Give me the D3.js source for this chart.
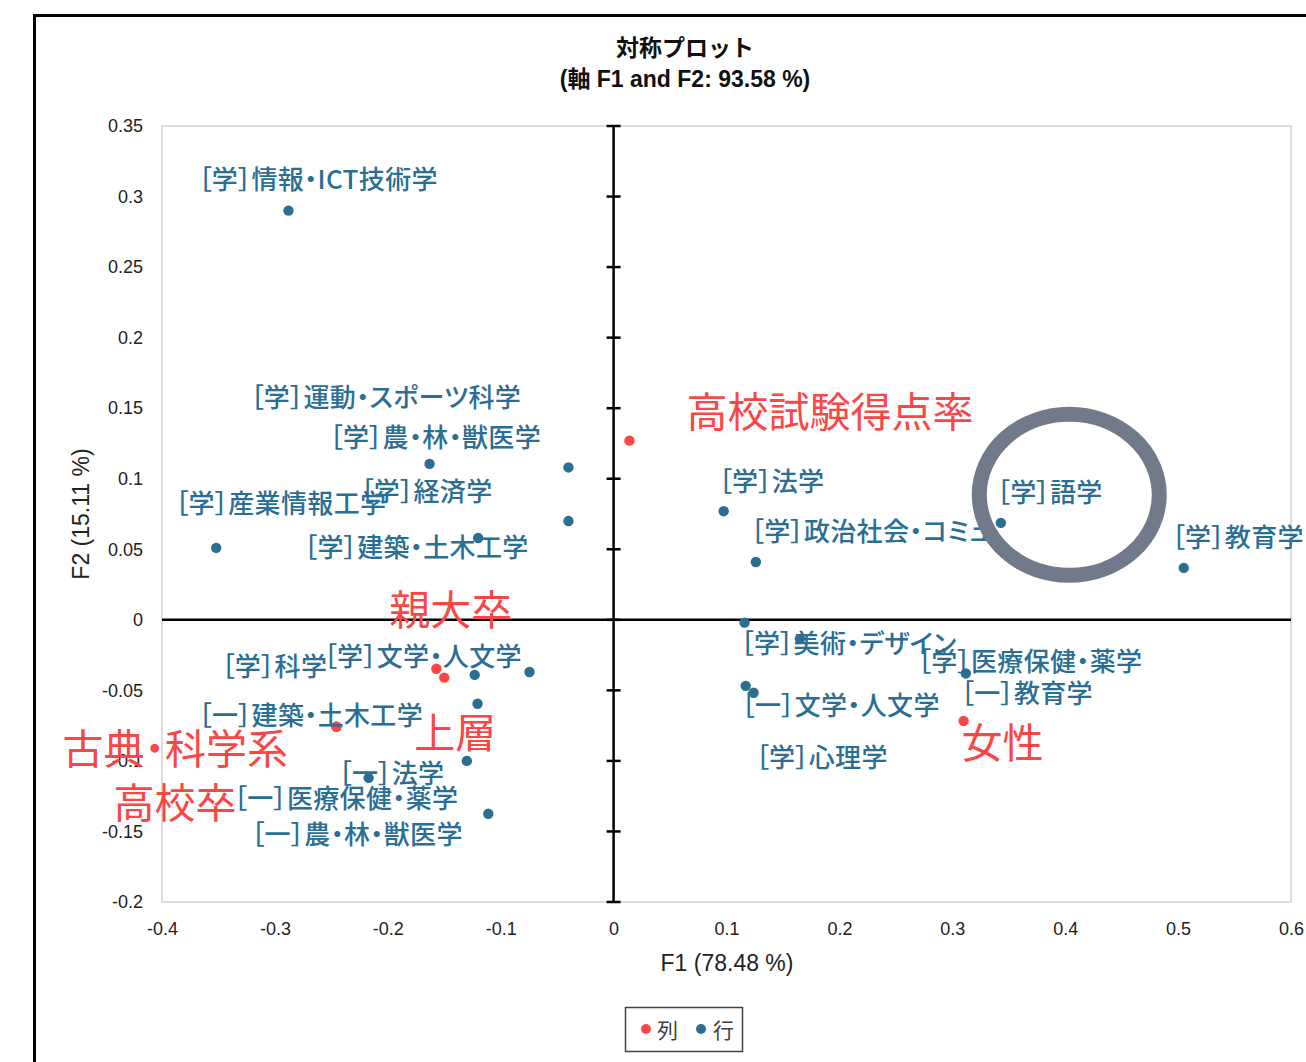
<!DOCTYPE html>
<html><head><meta charset="utf-8">
<script src="https://cdn.jsdelivr.net/npm/d3@7"></script>
<style>
html,body{margin:0;padding:0;background:#fff;}
svg{display:block;}
.tick text{font-family:"Liberation Sans",Arial,sans-serif;}
.lbl{font-feature-settings:"palt" 1;}
</style></head>
<body>
<svg id="c" width="1306" height="1062"></svg>
<script>
// ---- data ----
const rowLabels = [
  "［学］情報・ICT技術学","［学］運動・スポーツ科学","［学］農・林・獣医学","［学］経済学","［学］産業情報工学","［学］建築・土木工学",
  "［学］文学・人文学","［学］科学","［一］建築・土木工学","［一］法学","［一］医療保健・薬学","［一］農・林・獣医学",
  "［学］法学","［学］政治社会・コミュ","［学］語学","［学］教育学",
  "［学］美術・デザイン","［学］医療保健・薬学","［一］教育学","［一］文学・人文学","［学］心理学"
];
const rowF1 = [-0.288,-0.040,-0.163,-0.040,-0.352,-0.120,
  -0.123,-0.0745,-0.1205,-0.217,-0.130,-0.111,
  0.0975,0.126,0.343,0.505,
  0.116,0.165,0.312,0.124,0.117];
const rowF2 = [0.290,0.108,0.1105,0.070,0.051,0.058,
  -0.039,-0.037,-0.0595,-0.112,-0.100,-0.1375,
  0.077,0.041,0.0687,0.0368,
  -0.002,-0.0135,-0.038,-0.0517,-0.0468];
const colLabels = ["高校試験得点率","女性","親大卒","上層","古典・科学系","高校卒"];
const colF1 = [0.014,0.310,-0.157,-0.150,-0.2455,-0.2455];
const colF2 = [0.127,-0.0716,-0.0347,-0.041,-0.0758,-0.0758];
const xTicks = [-0.4,-0.3,-0.2,-0.1,0,0.1,0.2,0.3,0.4,0.5,0.6];
const yTicks = [-0.2,-0.15,-0.1,-0.05,0,0.05,0.1,0.15,0.2,0.25,0.3,0.35];
const titleLines = ["対称プロット","(軸 F1 and F2: 93.58 %)"];
const xTitle = "F1 (78.48 %)";
const yTitle = "F2 (15.11 %)";
const legendItems = ["列","行"];
const highlight = [0.4036, 0.0886]; // annotated point region (語学)

// ---- label placement (pixel offsets from each point) ----
const rowLabelOff = [[-90,-33],[-318,-72],[-100,-28],[-208,-32],[-41,-46],[-174,8],
  [-151,-20],[-308,-8],[-279,10],[-30,-6],[-233,36],[-237,19],
  [-5,-32],[-5,-32],[-4,-32],[-12,-32],
  [-4,19],[118,21],[-5,18],[-12,11],[10,70]];
const colLabelOff = [[57,-32],[-2,19],[-47,-62],[-30,52],[-274,19],[-223,73]];

const BLUE = "#2b6e93", RED = "#fb4646";
const svg = d3.select("#c");
const M = {l:162, r:1291, t:126, b:902};
const x = d3.scaleLinear().domain([-0.4,0.6]).range([M.l,M.r]);
const y = d3.scaleLinear().domain([-0.2,0.35]).range([M.b,M.t]);
const fmt = d => String(+d.toFixed(2));

// outer frame
svg.append("path").attr("d","M34.5,1062 L34.5,15.5 L1306,15.5").attr("fill","none").attr("stroke","#000").attr("stroke-width",3);

// title
svg.selectAll("text.title").data(titleLines).enter().append("text")
  .attr("x",685).attr("y",(d,i)=>56+i*31).attr("text-anchor","middle")
  .attr("font-family","'Liberation Sans',Arial,'Noto Sans CJK JP',sans-serif")
  .attr("font-weight","bold").attr("font-size",23).attr("fill","#111").text(d=>d);

// plot border
svg.append("rect").attr("x",M.l).attr("y",M.t).attr("width",M.r-M.l).attr("height",M.b-M.t)
  .attr("fill","none").attr("stroke","#d2d2d2").attr("stroke-width",1.5);

// axes tick labels
const ax = svg.append("g").attr("transform",`translate(0,${M.b+12})`)
  .call(d3.axisBottom(x).tickValues(xTicks).tickSize(0).tickPadding(8).tickFormat(fmt));
ax.select(".domain").remove();
ax.selectAll("text").attr("font-size",18).attr("fill","#222");
const ay = svg.append("g").attr("transform",`translate(${M.l-19},0)`)
  .call(d3.axisLeft(y).tickValues(yTicks).tickSize(0).tickPadding(0).tickFormat(fmt));
ay.select(".domain").remove();
ay.selectAll("text").attr("font-size",18).attr("fill","#222");

// axis titles
svg.append("text").attr("x",727).attr("y",971).attr("text-anchor","middle")
  .attr("font-family","'Liberation Sans',Arial,sans-serif").attr("font-size",23).attr("fill","#222").text(xTitle);
svg.append("text").attr("transform",`translate(89,${(M.t+M.b)/2}) rotate(-90)`).attr("text-anchor","middle")
  .attr("font-family","'Liberation Sans',Arial,sans-serif").attr("font-size",23).attr("fill","#222").text(yTitle);

// zero lines
svg.append("line").attr("x1",M.l).attr("x2",M.r).attr("y1",y(0)).attr("y2",y(0)).attr("stroke","#000").attr("stroke-width",2.5);
svg.append("line").attr("x1",x(0)).attr("x2",x(0)).attr("y1",M.t).attr("y2",M.b).attr("stroke","#000").attr("stroke-width",2.5);
svg.selectAll("line.ytk").data(yTicks).enter().append("line")
  .attr("x1",x(0)-7).attr("x2",x(0)+7).attr("y1",d=>y(d)).attr("y2",d=>y(d)).attr("stroke","#000").attr("stroke-width",2.5);

const cjk = "'Noto Sans CJK JP','Noto Sans CJK SC',sans-serif";
// column points (red)
const colData = colLabels.map((l,i)=>({l,f1:colF1[i],f2:colF2[i],o:colLabelOff[i]}));
svg.selectAll("circle.col").data(colData).enter().append("circle")
  .attr("cx",d=>x(d.f1)).attr("cy",d=>y(d.f2)).attr("r",5.2).attr("fill",RED);
// row points (blue)
const rowData = rowLabels.map((l,i)=>({l,f1:rowF1[i],f2:rowF2[i],o:rowLabelOff[i]}));
svg.selectAll("circle.row").data(rowData).enter().append("circle")
  .attr("cx",d=>x(d.f1)).attr("cy",d=>y(d.f2)).attr("r",5.2).attr("fill",BLUE);

// labels
svg.selectAll("text.rowl").data(rowData).enter().append("text").attr("class","lbl")
  .attr("x",d=>x(d.f1)+d.o[0]).attr("y",d=>y(d.f2)+d.o[1]).attr("dominant-baseline","central")
  .attr("font-family",cjk).attr("font-size",26).attr("font-weight",500).attr("letter-spacing",0.35)
  .attr("fill",BLUE).text(d=>d.l);
svg.selectAll("text.coll").data(colData).enter().append("text").attr("class","lbl")
  .attr("x",d=>x(d.f1)+d.o[0]).attr("y",d=>y(d.f2)+d.o[1]).attr("dominant-baseline","central")
  .attr("font-family",cjk).attr("font-size",41).attr("fill",RED).text(d=>d.l);

// highlight ring
svg.append("ellipse").attr("cx",x(highlight[0])).attr("cy",y(highlight[1])).attr("rx",90).attr("ry",80.5)
  .attr("fill","none").attr("stroke","#717a8b").attr("stroke-width",15);

// legend
const lg = svg.append("g");
lg.append("rect").attr("x",625.5).attr("y",1007.5).attr("width",117).attr("height",44).attr("fill","#fff").attr("stroke","#444").attr("stroke-width",1.5);
const lcol = [RED, BLUE];
legendItems.forEach((t,i)=>{
  lg.append("circle").attr("cx",646+i*55).attr("cy",1029).attr("r",5).attr("fill",lcol[i]);
  lg.append("text").attr("x",657+i*56).attr("y",1029).attr("dominant-baseline","central")
    .attr("font-family",cjk).attr("font-size",21).attr("fill","#404040").text(t);
});
</script>
</body></html>
